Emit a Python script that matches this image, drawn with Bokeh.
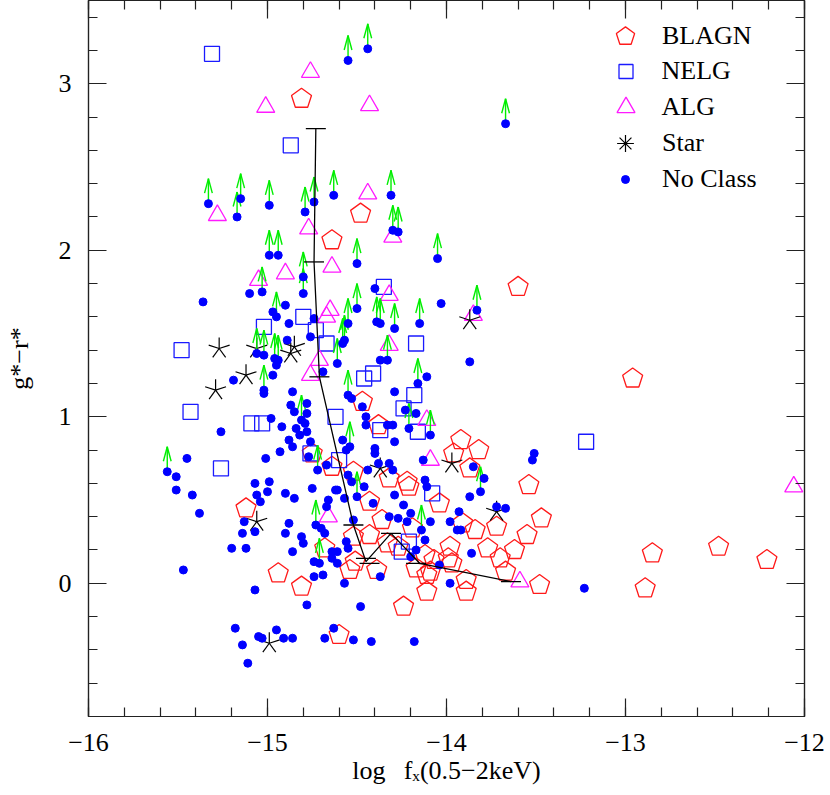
import numpy as np
from bokeh.plotting import figure
from bokeh.models import (Legend, LegendItem, LinearAxis, SingleIntervalTicker,
                          CustomJSTickFormatter)
from bokeh.embed import file_html
from bokeh.resources import INLINE

# ---------------- data (log fX, g*-r*) ----------------
blagn_x = [-14.81, -14.48, -14.64, -13.60, -12.96, -14.47, -14.38, -14.75, -13.92, -13.82,
           -13.96, -14.64, -14.52, -13.87, -14.32, -14.22, -14.21, -13.54, -14.43, -14.04,
           -15.12, -14.36, -13.47, -14.19, -13.91, -13.84, -13.72, -13.55, -14.52, -14.43,
           -14.33, -14.27, -14.68, -14.51, -14.54, -14.39, -14.12, -14.07, -13.98, -13.97,
           -13.99, -14.17, -14.11, -14.09, -13.77, -13.70, -13.62, -13.67, -13.89, -13.89,
           -13.48, -14.11, -14.24, -14.94, -14.81, -14.60, -12.85, -12.48, -12.21, -12.89]
blagn_y = [2.91, 2.22, 2.06, 1.78, 1.23, 1.09, 0.95, 0.78, 0.86, 0.80,
           0.78, 0.70, 0.67, 0.69, 0.63, 0.61, 0.58, 0.59, 0.49, 0.48,
           0.45, 0.38, 0.39, 0.33, 0.36, 0.32, 0.34, 0.29, 0.28, 0.29,
           0.24, 0.22, 0.21, 0.13, 0.08, 0.08, 0.17, 0.14, 0.22, 0.12,
           0.15, 0.09, 0.05, 0.07, 0.21, 0.15, 0.20, 0.07, 0.02, -0.05,
           -0.01, -0.05, -0.14, 0.06, -0.02, -0.31, 0.18, 0.22, 0.14, -0.03]

nelg_x = [-15.31, -14.87, -14.80, -15.02, -14.73, -14.67, -15.48, -14.35, -14.17, -14.41,
          -14.46, -15.43, -14.62, -15.09, -15.03, -14.18, -14.24, -14.16, -14.37, -13.22,
          -14.76, -14.60, -15.26, -14.08, -14.21, -14.25]
nelg_y = [3.18, 2.63, 1.60, 1.54, 1.52, 1.44, 1.40, 1.78, 1.44, 1.26,
          1.23, 1.03, 1.00, 0.96, 0.96, 1.13, 1.05, 0.91, 0.92, 0.85,
          0.78, 0.74, 0.69, 0.54, 0.25, 0.19]

alg_x = [-14.76, -15.01, -14.43, -15.28, -14.44, -14.77, -14.30, -14.64, -14.90, -15.05,
         -14.65, -14.67, -14.32, -13.85, -14.32, -14.71, -14.76, -14.11, -14.09, -14.66,
         -13.59, -12.06]
alg_y = [3.07, 2.86, 2.87, 2.21, 2.34, 2.13, 2.08, 1.90, 1.86, 1.82,
         1.64, 1.60, 1.73, 1.61, 1.43, 1.34, 1.25, 0.98, 0.74, 0.40,
         0.01, 0.58]

star_x = [-15.27, -15.06, -14.85, -14.87, -15.12, -15.29, -13.87, -15.06, -14.37, -13.97,
          -13.72, -14.99]
star_y = [1.41, 1.41, 1.42, 1.38, 1.25, 1.16, 1.58, 0.37, 0.69, 0.72,
          0.43, -0.36]

# unclassified sources; nc_limit = 1 marks a lower limit (green arrow)
nc_x = [-14.55, -14.44, -13.67, -15.33, -15.15, -15.17, -14.99, -14.79, -14.74, -14.63,
        -14.31, -14.30, -14.27, -14.99, -14.94, -14.50, -14.05, -14.80, -14.80, -15.03,
        -15.10, -15.36, -14.50, -14.97, -14.95, -14.90, -14.88, -14.74, -14.55, -14.57,
        -14.58, -14.76, -14.89, -15.06, -15.02, -14.96, -14.94, -14.95, -14.61, -14.97,
        -14.69, -15.19, -15.02, -15.02, -14.86, -14.55, -14.53, -14.87, -14.81, -14.85,
        -14.78, -14.78, -14.79, -14.84, -14.98, -14.92, -15.26, -14.82, -14.78, -14.88,
        -14.86, -14.76, -14.58, -14.54, -14.56, -14.93, -14.77, -14.72, -14.67, -15.01,
        -15.45, -15.56, -15.51, -14.55, -15.51, -15.42, -15.38, -15.07, -14.99, -15.06,
        -15.00, -15.04, -14.90, -14.85, -14.75, -14.62, -14.61, -14.66, -14.67, -14.53,
        -14.57, -14.50, -15.13, -15.14, -15.07, -15.20, -15.12, -14.90, -14.88, -14.81,
        -14.80, -14.86, -14.73, -14.70, -14.68, -14.71, -14.74, -14.64, -14.61, -14.64,
        -14.61, -14.56, -14.55, -14.52, -14.74, -14.69, -14.57, -15.47, -15.07, -14.78,
        -14.48, -15.18, -15.05, -15.03, -14.95, -14.91, -14.86, -15.14, -15.11, -14.63,
        -14.68, -14.52, -14.32, -14.44, -14.30, -14.46, -14.41, -14.12, -14.11, -14.29,
        -14.24, -14.20, -14.32, -14.27, -14.14, -14.22, -14.09, -13.85, -13.81, -13.79,
        -13.87, -13.72, -13.67, -13.93, -13.98, -13.94, -13.92, -14.37, -14.12, -14.17,
        -14.20, -14.04, -13.98, -13.86, -13.23, -14.42, -14.18, -14.40, -14.03, -14.39,
        -14.37, -14.29, -14.15, -13.83, -14.37, -14.33, -13.87, -14.16, -14.11, -14.47,
        -14.29, -14.23, -14.17, -14.21, -14.09, -14.45, -14.45, -14.33, -14.30, -14.29,
        -14.40, -14.40, -14.13, -14.38, -13.51, -13.52]
nc_y = [3.14, 3.21, 2.76, 2.28, 2.31, 2.20, 2.27, 2.23, 2.29, 2.33,
        2.33, 2.12, 2.11, 1.97, 1.97, 1.92, 1.95, 1.84, 1.74, 1.75,
        1.74, 1.69, 1.65, 1.63, 1.60, 1.67, 1.56, 1.59, 1.56, 1.46,
        1.44, 1.48, 1.46, 1.38, 1.37, 1.35, 1.34, 1.31, 1.32, 1.25,
        1.27, 1.22, 1.16, 1.14, 1.15, 1.13, 1.11, 1.07, 0.98, 1.03,
        1.02, 1.08, 0.96, 0.93, 0.99, 0.94, 0.91, 0.89, 0.91, 0.86,
        0.82, 0.85, 0.86, 0.82, 0.80, 0.79, 0.76, 0.68, 0.71, 0.75,
        0.75, 0.67, 0.64, 0.65, 0.56, 0.53, 0.42, 0.60, 0.61, 0.53,
        0.55, 0.49, 0.54, 0.51, 0.57, 0.56, 0.56, 0.50, 0.46, 0.61,
        0.51, 0.52, 0.37, 0.30, 0.31, 0.21, 0.21, 0.30, 0.36, 0.28,
        0.24, 0.19, 0.35, 0.33, 0.30, 0.12, 0.13, 0.19, 0.19, 0.15,
        0.12, 0.25, 0.21, 0.38, 0.04, 0.05, 0.00, 0.08, -0.04, -0.13,
        -0.14, -0.27, -0.32, -0.33, -0.28, -0.33, -0.33, -0.37, -0.48, -0.27,
        -0.33, -0.34, 0.72, 0.68, 0.68, 0.58, 0.48, 0.62, 0.58, 0.53,
        0.47, 0.42, 0.40, 0.39, 0.32, 0.37, 0.37, 0.70, 0.55, 0.63,
        0.52, 0.46, 0.45, 0.43, 0.37, 0.32, 0.32, 0.04, 0.26, 0.20,
        0.16, 0.11, 0.00, 0.18, -0.03, -0.35, -0.35, 1.77, 1.68, 1.57,
        1.56, 1.53, 1.56, 1.64, 1.34, 1.34, 1.33, 1.20, 1.24, 1.06,
        1.15, 1.04, 1.02, 0.93, 0.89, 1.00, 0.95, 0.95, 0.95, 0.85,
        0.81, 0.78, 0.74, 0.72, 0.78, 0.74]
nc_limit = [1, 1, 1, 1, 1, 1, 1, 1, 1, 1,
            1, 1, 1, 1, 1, 1, 1, 1, 1, 1,
            0, 0, 1, 0, 1, 0, 0, 0, 1, 1,
            1, 0, 0, 1, 1, 1, 1, 0, 1, 0,
            0, 0, 1, 0, 0, 1, 0, 0, 1, 0,
            0, 0, 0, 0, 0, 0, 0, 0, 0, 0,
            0, 0, 0, 1, 0, 0, 0, 1, 0, 0,
            0, 1, 0, 0, 0, 0, 0, 0, 0, 0,
            0, 0, 0, 0, 0, 0, 0, 0, 0, 0,
            0, 1, 0, 0, 0, 0, 0, 0, 0, 0,
            0, 0, 1, 0, 0, 1, 0, 0, 0, 0,
            0, 0, 0, 0, 0, 0, 0, 0, 0, 0,
            0, 0, 0, 0, 0, 0, 0, 0, 0, 0,
            0, 0, 0, 0, 0, 0, 0, 0, 0, 0,
            0, 0, 0, 0, 1, 0, 0, 0, 1, 0,
            0, 0, 0, 0, 0, 0, 0, 0, 0, 0,
            0, 0, 0, 0, 0, 0, 0, 0, 0, 1,
            1, 1, 1, 1, 0, 1, 0, 1, 0, 0,
            0, 0, 0, 1, 1, 0, 0, 0, 0, 0,
            0, 0, 0, 0, 0, 0]

# running median with error bars
trend_x = [-14.73, -14.74, -14.71, -14.52, -14.45, -14.31, -14.15, -13.64]
trend_y = [2.73, 1.93, 1.24, 0.35, 0.13, 0.30, 0.12, 0.01]
cap_x = [-14.73, -14.74, -14.71, -14.52, -14.45, -14.43, -14.31, -14.17, -13.64]
cap_y = [2.73, 1.93, 1.24, 0.35, 0.15, 0.12, 0.30, 0.12, 0.01]

x_label = "log\u2002\u2009f\u2093(0.5\u22122keV)"
y_label = "g*\u2212r*"

# ---------------- figure ----------------
FONT = "Liberation Serif"
INK = "#222222"
RED, BLUE, MAGENTA, GREEN = "#ff1a1a", "#1a1aff", "#ff1aff", "#00ee00"
FW, FH = 716, 716
X0, X1, Y0, Y1 = -16, -12, -0.8, 3.5

p = figure(frame_width=FW, frame_height=FH, x_range=(X0, X1), y_range=(Y0, Y1),
           x_axis_type=None, y_axis_type=None, output_backend="svg", toolbar_location=None,
           min_border_left=88, min_border_right=26, min_border_top=0, min_border_bottom=79,
           background_fill_color="white", border_fill_color="white")
p.outline_line_color = INK
p.outline_line_width = 1.2


def make_axis(side, labelled, title=None):
    ax = LinearAxis(ticker=SingleIntervalTicker(interval=1, num_minor_ticks=5))
    ax.major_tick_in = 18
    ax.major_tick_out = 0
    ax.minor_tick_in = 9
    ax.minor_tick_out = 0
    ax.axis_line_color = INK
    ax.axis_line_width = 1.2
    ax.major_tick_line_color = INK
    ax.minor_tick_line_color = INK
    ax.major_tick_line_width = 1.2
    ax.minor_tick_line_width = 1.2
    if labelled:
        ax.formatter = CustomJSTickFormatter(
            code="return (tick < 0 ? '\u2212' : '') + Math.abs(tick).toFixed(0);")
        ax.major_label_text_font = FONT
        ax.major_label_text_font_size = "26px"
        ax.major_label_text_color = "black"
        ax.major_label_standoff = 17
        ax.axis_label = title
        ax.axis_label_text_font = FONT
        ax.axis_label_text_font_size = "26px"
        ax.axis_label_text_font_style = "normal"
        ax.axis_label_text_color = "black"
        ax.axis_label_standoff = 2 if side == "below" else 22
    else:
        ax.formatter = CustomJSTickFormatter(code="return '';")
        ax.major_label_text_font_size = "0px"
        ax.major_label_text_color = None
        ax.major_label_standoff = 0
    p.add_layout(ax, side)
    return ax


make_axis("below", True, x_label)
make_axis("above", False)
make_axis("left", True, y_label)
make_axis("right", False)

# ---------------- glyphs ----------------
try:
    r_blagn = p.ngon(blagn_x, blagn_y, radius=10.5, radius_units="screen", n=5, angle=0.0,
                     fill_color=None, line_color=RED, line_width=1.3)
except Exception:
    px_x, px_y = (X1 - X0) / FW, (Y1 - Y0) / FH
    angs = np.radians(90 + 72 * np.arange(5))
    xs = [list(x + 10.5 * np.cos(angs) * px_x) for x in blagn_x]
    ys = [list(y + 10.5 * np.sin(angs) * px_y) for y in blagn_y]
    r_blagn = p.patches(xs, ys, fill_color=None, line_color=RED, line_width=1.3)

r_nelg = p.scatter(nelg_x, nelg_y, marker="square", size=15, fill_color=None,
                   line_color=BLUE, line_width=1.3)
r_alg = p.scatter(alg_x, alg_y, marker="triangle", size=18, fill_color=None,
                  line_color=MAGENTA, line_width=1.3)

for ang in (90, 162, 234, 306, 18):
    p.ray(star_x, star_y, length=11, length_units="screen", angle=np.radians(ang),
          line_color="black", line_width=1.2)
r_star_leg = p.scatter(star_x, star_y, marker="asterisk", size=17, line_color="black",
                       line_width=1.2, visible=False)

lim_x = [x for x, f in zip(nc_x, nc_limit) if f]
lim_y = [y for y, f in zip(nc_y, nc_limit) if f]
arrow_len = 0.15
lim_top = [y + arrow_len for y in lim_y]
p.segment(lim_x, lim_y, lim_x, lim_top, line_color=GREEN, line_width=1.4)
for ang in (255, 285):
    p.ray(lim_x, lim_top, length=15, length_units="screen", angle=np.radians(ang),
          line_color=GREEN, line_width=1.4)

r_nc = p.scatter(nc_x, nc_y, marker="circle", size=8, fill_color="#0000ff",
                 line_color="#0000ff")

p.line(trend_x, trend_y, line_color="black", line_width=1.3)
p.scatter(cap_x, cap_y, marker="dash", size=20, line_color="black", line_width=1.3)

# ---------------- legend (one box per entry so symbol sizes can differ) ----------------
legend_rows = [("BLAGN", r_blagn, 48, 13, 36),
               ("NELG", r_nelg, 35, 19, 71),
               ("ALG", r_alg, 45, 14, 107),
               ("Star", r_star_leg, 42, 16, 143),
               ("No Class", r_nc, 20, 27, 179)]
for label, rend, gw, standoff, yc in legend_rows:
    leg = Legend(items=[LegendItem(label=label, renderers=[rend])],
                 location=(537 - gw / 2, FH - (yc + 25)),
                 glyph_width=gw, glyph_height=50, label_standoff=standoff,
                 padding=0, margin=0, spacing=0,
                 background_fill_alpha=0, border_line_color=None,
                 label_text_font=FONT, label_text_font_size="26px",
                 label_text_color="black")
    p.add_layout(leg)

open("out.html", "w", encoding="utf-8").write(file_html(p, INLINE))
